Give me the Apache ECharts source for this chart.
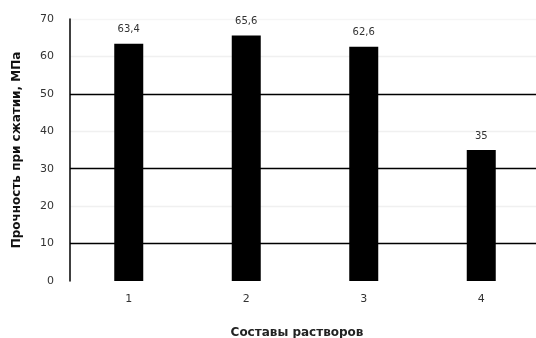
<!DOCTYPE html>
<html>
<head>
<meta charset="utf-8">
<script src="https://cdn.jsdelivr.net/npm/echarts@6/dist/echarts.min.js"></script>
<style>
  html, body { margin: 0; padding: 0; background: #fff; }
  #chart { width: 536px; height: 338px; }
</style>
</head>
<body>
<div id="chart"></div>
<script>
// Compressive strength of mortar compositions
const categories = ['1', '2', '3', '4'];
const strength = [63.4, 65.6, 62.6, 35];
const valueLabels = ['63,4', '65,6', '62,6', '35'];
const yTicks = [0, 10, 20, 30, 40, 50, 60, 70];

const chart = echarts.init(document.getElementById('chart'));
const font = '"DejaVu Sans", Verdana, sans-serif';

chart.setOption({
  animation: false,
  backgroundColor: '#fff',
  grid: {
    left: 70, top: 19, width: 470, height: 262,
    containLabel: false,
    outerBoundsMode: 'none'
  },
  xAxis: {
    type: 'category',
    data: categories,
    axisLine: { show: false },
    axisTick: { show: false },
    axisLabel: { color: '#333', fontFamily: font, fontSize: 11, margin: 13 },
    name: 'Составы растворов',
    nameLocation: 'middle',
    nameGap: 46,
    nameTextStyle: { color: '#222', fontFamily: font, fontSize: 12, fontWeight: 'bold', padding: [0, 16, 0, 0] }
  },
  yAxis: {
    type: 'value',
    min: yTicks[0],
    max: yTicks[yTicks.length - 1],
    interval: 10,
    axisLine: { show: true, lineStyle: { color: '#000', width: 1.5 } },
    axisTick: { show: false },
    axisLabel: { color: '#333', fontFamily: font, fontSize: 11, margin: 16 },
    splitLine: {
      show: true,
      lineStyle: {
        // strong lines at 10, 30, 50; faint ones in between
        color: ['rgba(0,0,0,0)', '#000', '#f0f0f0', '#000', '#f0f0f0', '#000', '#f0f0f0', '#f5f5f5'],
        width: 1.3
      }
    },
    name: 'Прочность при сжатии, МПа',
    nameLocation: 'middle',
    nameRotate: 90,
    nameGap: 47,
    nameTextStyle: { color: '#111', fontFamily: font, fontSize: 12, fontWeight: 'bold' }
  },
  series: [{
    type: 'bar',
    data: strength,
    barWidth: 29,
    itemStyle: { color: '#000' },
    label: {
      show: true,
      position: 'top',
      distance: 9,
      color: '#333',
      fontFamily: font,
      fontSize: 10,
      formatter: p => valueLabels[p.dataIndex]
    }
  }]
});
</script>
</body>
</html>
